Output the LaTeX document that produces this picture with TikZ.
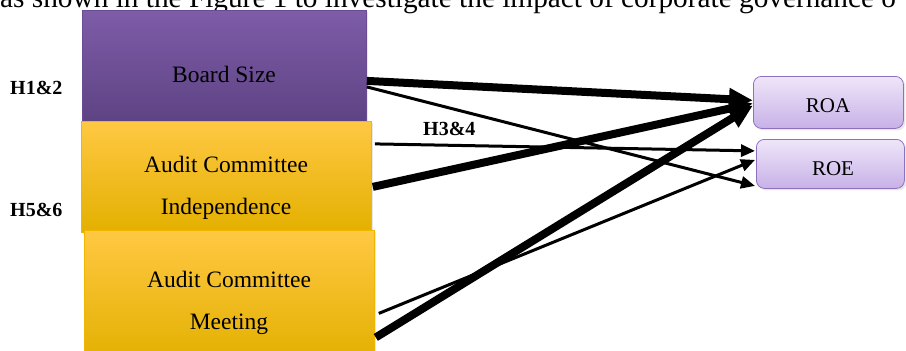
\documentclass[tikz,border=0pt]{standalone}
\usepackage{fontspec}
\setmainfont{Liberation Serif}
\usetikzlibrary{arrows.meta,shadows}
\definecolor{purpT}{HTML}{7E5CA8}
\definecolor{purpB}{HTML}{5E4384}
\definecolor{purpD}{HTML}{6A4C94}
\definecolor{yelT}{HTML}{FFC843}
\definecolor{yelM}{HTML}{FFC000}
\definecolor{yelB}{HTML}{E3B000}
\definecolor{yelD}{HTML}{F2B600}
\definecolor{lavT}{HTML}{EFE6F9}
\definecolor{lavB}{HTML}{C7B1E7}
\definecolor{lavD}{HTML}{8F6FC0}
\begin{document}
\begin{tikzpicture}[x=1pt,y=-1pt,
  box/.style={anchor=north west, inner sep=0pt, line width=0.8pt,
    drop shadow={opacity=0.18,shadow xshift=2pt,shadow yshift=-2pt}},
  purplebox/.style={box, draw=purpD, top color=purpT, bottom color=purpB},
  yellowbox/.style={box, draw=yelD, top color=yelT, middle color=yelM, bottom color=yelB},
  lavbox/.style={box, draw=lavD, rounded corners=8pt, top color=lavT, bottom color=lavB},
  boxtext/.style={align=center, font=\fontsize{23.5}{42}\selectfont, inner sep=0pt},
  smalltext/.style={font=\fontsize{21}{24}\selectfont, inner sep=0pt, anchor=base},
  hyp/.style={font=\fontsize{20}{24}\selectfont\bfseries, inner sep=0pt, anchor=base west},
  thick arrow/.style={line width=8pt, -{Triangle[length=24pt,width=21pt]}},
  thin arrow/.style={line width=3pt, -{Triangle[length=14pt,width=12pt]}}
]
\useasboundingbox (0,0) rectangle (906,351);
% cropped line of running text above the figure
\node[inner sep=0pt, anchor=base west, font=\fontsize{29.3}{31}\selectfont] (top) at (0,7)
  {as shown in the Figure 1 to investigate the impact of corporate governance o};

\node[purplebox, minimum width=284pt, minimum height=111pt] (bs) at (82,10) {};
\node[yellowbox, minimum width=290pt, minimum height=111pt] (aci) at (81,121) {};
\node[yellowbox, minimum width=290pt, minimum height=130pt] (acm) at (84,230) {};

\node[boxtext, anchor=base] (bst) at (224,82) {Board Size};
\node[boxtext] (acit) at (226,187.5) {Audit Committee\\Independence};
\node[boxtext] (acmt) at (229,303) {Audit Committee\\Meeting};

\node[lavbox, minimum width=150pt, minimum height=52pt] (roa) at (753,76) {};
\node[lavbox, minimum width=148pt, minimum height=49pt] (roe) at (756,139) {};
\node[smalltext] (roat) at (828,112) {ROA};
\node[smalltext] (roet) at (833,175) {ROE};

\node[hyp] (h12) at (10,94) {H1\&2};
\node[hyp] (h56) at (10,216) {H5\&6};
\node[hyp] (h34) at (423,135) {H3\&4};

% connectors
\draw[thin arrow] ([yshift=-21pt]bs.east) -- ([xshift=-1pt,yshift=-22pt]roe.west);
\draw[thin arrow] ([xshift=3pt,yshift=33pt]aci.east) -- ([xshift=-1pt,yshift=13pt]roe.west);
\draw[thin arrow] ([xshift=4pt,yshift=-18pt]acm.east) -- ([xshift=-1pt,yshift=4pt]roe.west);
\draw[thick arrow] ([yshift=-15pt]bs.east) -- ([yshift=2pt]roa.west);
\draw[thick arrow] ([xshift=1pt,yshift=-10pt]aci.east) -- ([yshift=-1pt]roa.west);
\draw[thick arrow] ([xshift=1pt,yshift=-42pt]acm.east) -- ([yshift=-3pt]roa.west);
\end{tikzpicture}
\end{document}
